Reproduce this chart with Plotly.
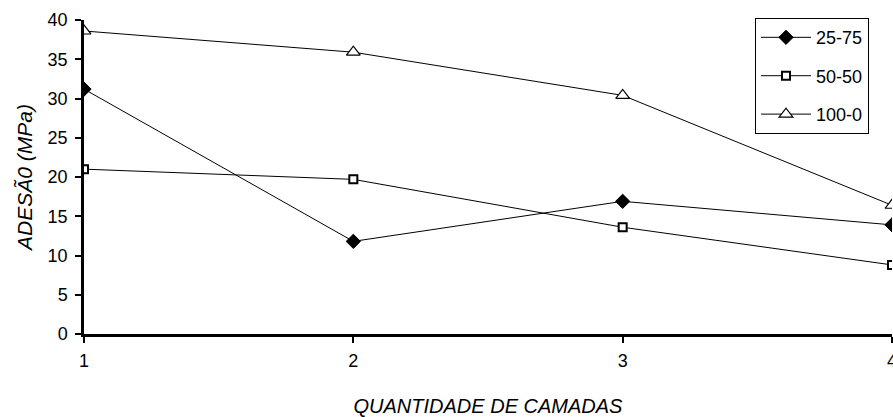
import plotly.graph_objects as go

camadas = [1, 2, 3, 4]
serie_names = ["25-75", "50-50", "100-0"]
v_25_75 = [31.2, 11.8, 16.9, 13.9]
v_50_50 = [21.0, 19.7, 13.6, 8.8]
v_100_0 = [38.6, 35.9, 30.4, 16.4]
y_ticks = [0, 5, 10, 15, 20, 25, 30, 35, 40]

FONT = "Liberation Sans, Arial, sans-serif"

fig = go.Figure()
styles = [
    dict(symbol="diamond", size=11, color="black", line=dict(color="black", width=1)),
    dict(symbol="square", size=8, color="white", line=dict(color="black", width=2)),
    dict(symbol="triangle-up", size=12, color="white", line=dict(color="black", width=1.2)),
]
for i, (name, vals) in enumerate(zip(serie_names, [v_25_75, v_50_50, v_100_0])):
    fig.add_trace(go.Scatter(
        x=camadas, y=vals, name=name, mode="lines+markers",
        line=dict(color="black", width=1),
        marker=styles[i], legendgroup=name, cliponaxis=True,
    ))

axis_common = dict(showgrid=False, zeroline=False, showline=True, linecolor="black",
                   linewidth=2.5, ticks="outside", ticklen=6, tickwidth=2, tickcolor="black")

fig.update_layout(
    width=893, height=417,
    margin=dict(l=84, r=1, t=20, b=83),
    paper_bgcolor="white", plot_bgcolor="white",
    font=dict(family=FONT, size=18, color="black"),
    showlegend=True,
    hovermode=False,
    legend=dict(x=(869 - 84) / (892 - 84), xanchor="right", y=1.006, yanchor="top",
                bordercolor="black", borderwidth=1, bgcolor="white",
                font=dict(size=18, family=FONT, color="black"), traceorder="grouped",
                tracegroupgap=12, itemwidth=50),
    xaxis=dict(range=[1, 4], tickvals=camadas, **axis_common, automargin=False,
               ticklabeloverflow="allow",
               title=dict(text="<i>QUANTIDADE DE CAMADAS</i>", font=dict(size=20, color="black"), standoff=36),
               tickfont=dict(size=18, color="black"), ticklabelstandoff=3),
    yaxis=dict(range=[0, 40], tickvals=y_ticks, **axis_common, automargin=True,
               title=dict(text="<i>ADESÃ0 (MPa)</i>", font=dict(size=21, color="black"), standoff=10),
               tickfont=dict(size=18, color="black"), ticklabelstandoff=4),
    xaxis2=dict(range=[1, 4], overlaying="x", tickvals=camadas, showticklabels=False,
                showgrid=False, zeroline=False, showline=False, ticks="inside", ticklen=6,
                tickwidth=2, tickcolor="black", side="bottom", anchor="y"),
    yaxis2=dict(range=[0, 40], overlaying="y", tickvals=y_ticks, showticklabels=False,
                showgrid=False, zeroline=False, showline=False, ticks="inside", ticklen=6,
                tickwidth=2, tickcolor="black", side="left", anchor="x"),
)

fig.write_html("out.html", config={"displayModeBar": False},
               post_script="document.body.style.margin='0';document.body.style.overflow='hidden';")
